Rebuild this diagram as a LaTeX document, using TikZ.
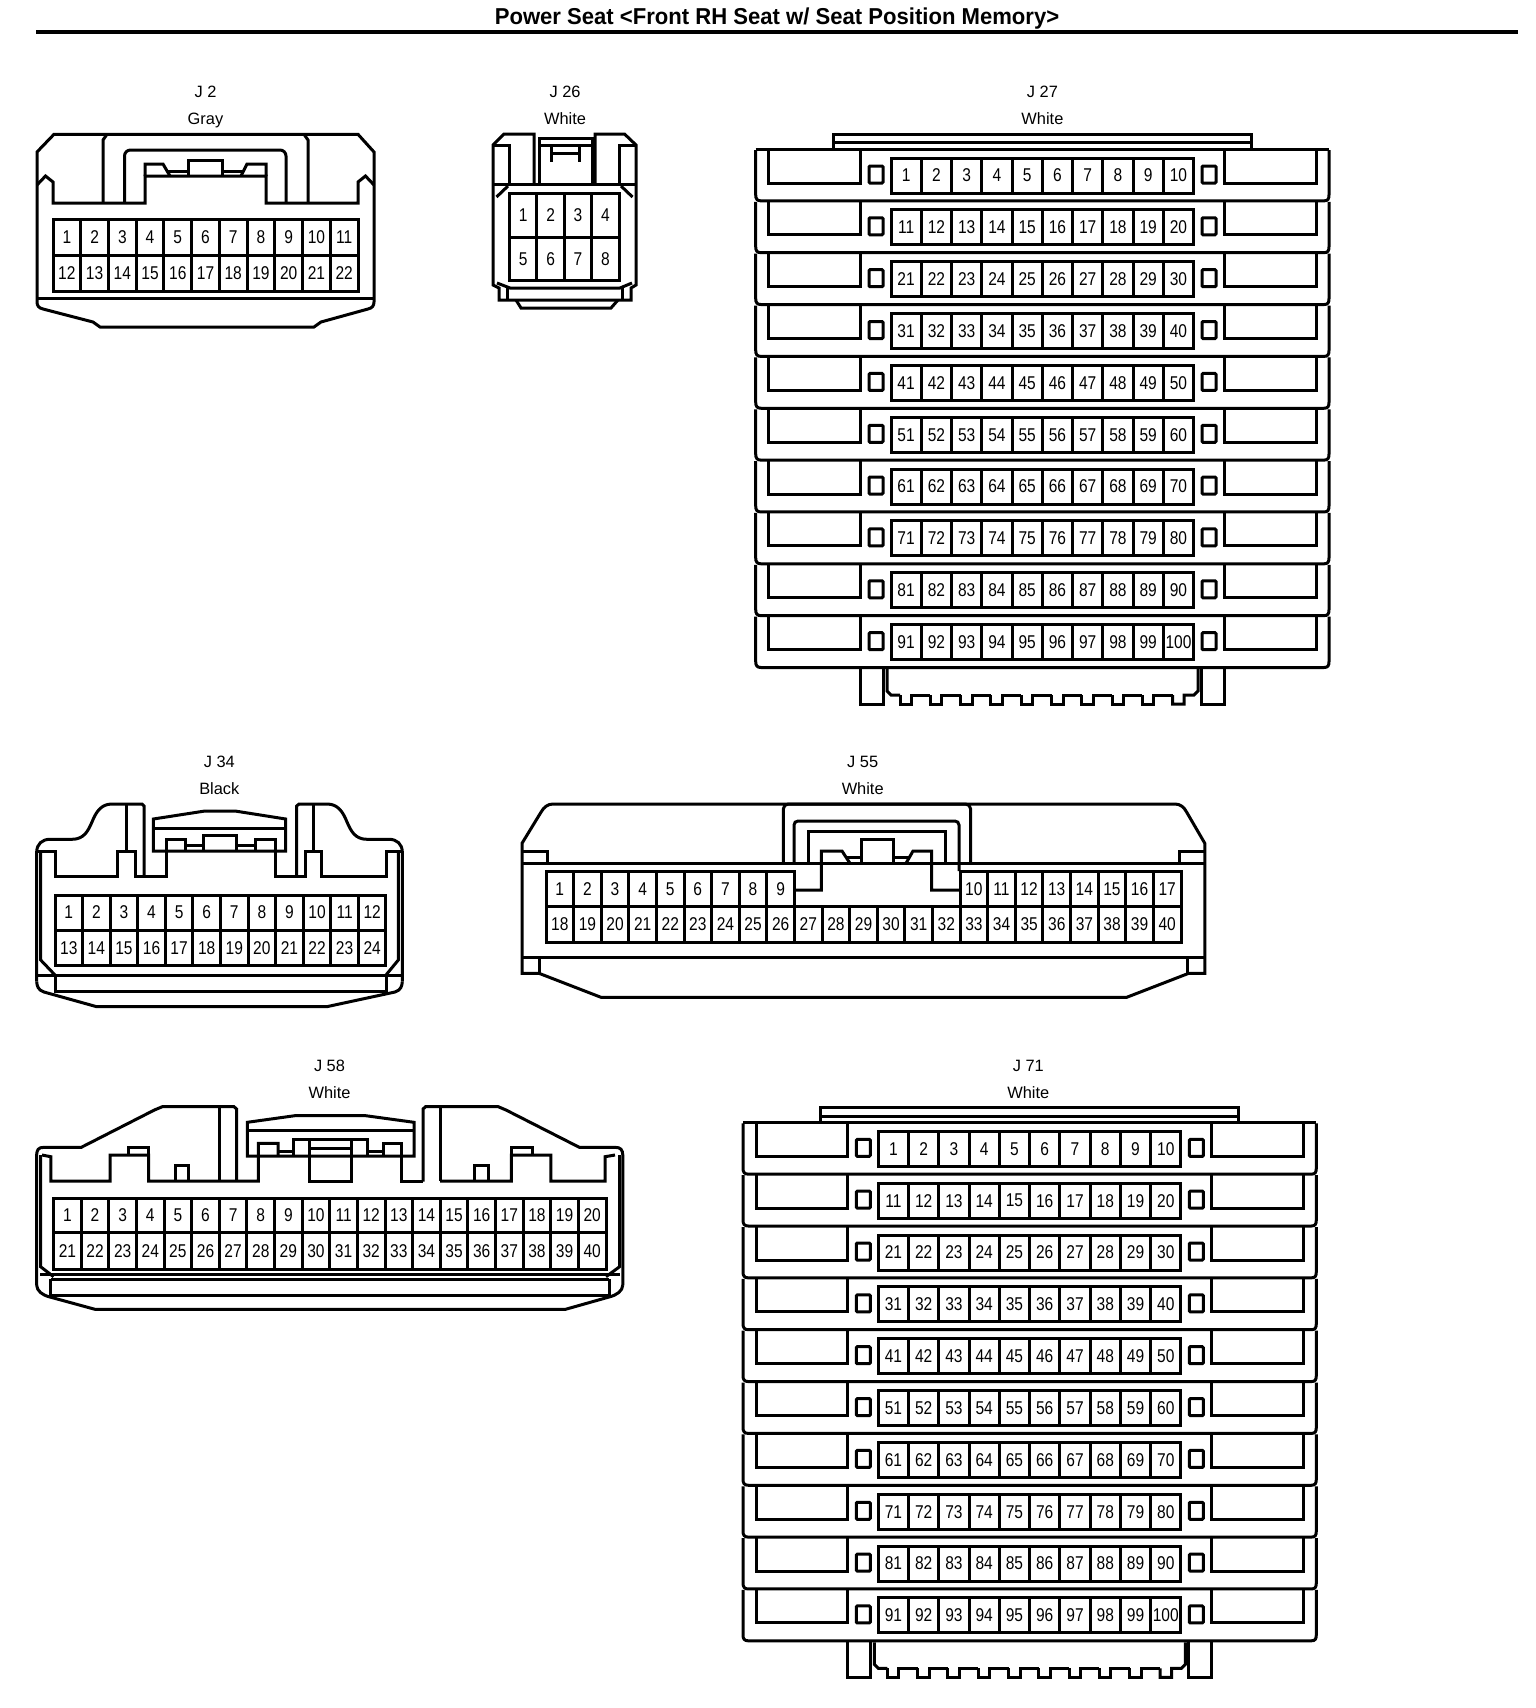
\documentclass[tikz,border=0pt]{standalone}
\usepackage{fontspec}
\setmainfont{Liberation Sans}
\newfontfamily\pinfont[FakeStretch=0.84]{Liberation Sans}
\newfontfamily\titlefont[FakeStretch=0.96]{Liberation Sans}
\usetikzlibrary{positioning}

% one row of numbered cavities: name, first, count, left, top, width, height
\newcommand{\pinrow}[7]{%
  \foreach \c in {1,...,#3} {
    \pgfmathtruncatemacro{\lab}{#2+\c-1}
    \pgfmathsetmacro{\cx}{#4+(\c-0.5)*#6}
    \pgfmathsetmacro{\cy}{#5+#7/2}
    \node[pincell, minimum width=#6pt, minimum height=#7pt] (#1\lab) at (\cx,\cy) {\lab};
  }%
}

% stacked ten-row connector, drawn where J27 sits
\newcommand{\tenrow}[1]{%
  \draw[outline] (833.6,149) -- (833.6,134) -- (1251,134) -- (1251,149);
  \draw[outline] (833.6,142.7) -- (1251,142.7);
  \draw[outline] (755.7,149) -- (1329,149);
  \foreach \m in {0,...,9} {
    \pgfmathsetmacro{\t}{149+51.85*\m}
    \pgfmathsetmacro{\b}{\t+51.85}
    \pgfmathtruncatemacro{\first}{10*\m+1}
    \draw[outline] (755.7,\t+1) -- (755.7,\b-6) .. controls (755.7,\b-2) and (757,\b) .. (761,\b)
      -- (1324,\b) .. controls (1328,\b) and (1329,\b-2) .. (1329,\b-6) -- (1329,\t+1);
    \draw[outline] (768.7,\t) -- (768.7,\t+34) -- (860.4,\t+34) -- (860.4,\t);
    \draw[outline] (1224,\t) -- (1224,\t+34) -- (1316,\t+34) -- (1316,\t);
    \draw[outline, rounded corners=1pt] (869,\t+17) rectangle (883,\t+34);
    \draw[outline, rounded corners=1pt] (1202,\t+17) rectangle (1216,\t+34);
    \pinrow{#1p}{\first}{10}{891}{\t+9}{30.26}{35}
  }
  % feet and comb under the last row
  \draw[outline] (860.4,669) -- (860.4,704) -- (883,704) -- (883,669);
  \draw[outline] (1201.5,669) -- (1201.5,704) -- (1224,704) -- (1224,669);
  \draw[outline] (887,669) -- (887,691) -- (891,695) -- (900,695);
  \foreach \i in {0,...,8} {
    \pgfmathsetmacro{\tx}{900+30.3*\i}
    \draw[outline] (\tx,695) -- (\tx,704) -- (\tx+11.5,704) -- (\tx+11.5,695) -- (\tx+30.3,695);
  }
  \draw[outline] (1172.7,695) -- (1172.7,704) -- (1184.2,704) -- (1184.2,695) -- (1194,695) -- (1198,691) -- (1198,669);
}

\begin{document}
\begin{tikzpicture}[
    x=1pt, y=-1pt,
    outline/.style={line width=3pt, line join=miter},
    pincell/.style={draw, line width=3pt, inner sep=0pt, outer sep=0pt,
      font=\pinfont\fontsize{18.5}{19}\selectfont},
    plugname/.style={anchor=base, inner sep=0pt, font=\fontsize{16.4}{18}\selectfont},
    plugcolor/.style={inner sep=0pt, text height=12pt, text depth=4pt,
      font=\fontsize{16.4}{18}\selectfont},
    node distance=15pt
]
    \fill[white] (0,0) rectangle (1536,1708);
    \useasboundingbox (0,0) rectangle (1536,1708);

    \node (title) [inner sep=0pt, font=\titlefont\bfseries\fontsize{23}{24}\selectfont] at (777,19) {Power Seat <Front RH Seat w/ Seat Position Memory>};
    \draw[line width=4pt] (36,32) -- (1518,32);

    % J2
    \node (j2name) [plugname] at (205.5,97.4) {J 2};
    \node (j2color) [plugcolor, below=of j2name] {Gray};
    \draw[outline] (54,134.3) -- (358,134.3) -- (374,152) -- (374,302)
      .. controls (374,306) and (372,308) .. (368,309) -- (321,322) -- (314,327) -- (100,327) -- (93,322)
      -- (43,309) .. controls (39,308) and (37,306) .. (37,302) -- (37,152) -- cycle;
    \draw[outline] (37,298) -- (374,298);
    \draw[outline] (37,185) -- (45.5,176) -- (53,182) -- (53,203) -- (145,203) -- (145,176) -- (266,176)
      -- (266,203) -- (358,203) -- (358,182) -- (365.5,176) -- (374,185);
    \draw[outline] (103,203) -- (103,140) -- (107,134.3);
    \draw[outline] (308,203) -- (308,140) -- (304,134.3);
    \draw[outline, rounded corners=6pt] (124.5,203) -- (124.5,150) -- (286,150) -- (286,203);
    \draw[outline] (145,176) -- (145,164) -- (163,164) -- (170,176);
    \draw[outline] (266,176) -- (266,164) -- (247,164) -- (241,176);
    \draw[outline] (167,171) -- (188.6,171);
    \draw[outline] (222,171) -- (244,171);
    \draw[outline] (188.6,176) -- (188.6,160) -- (222,160) -- (222,176);
    \pinrow{j2p}{1}{11}{53}{219}{27.73}{36.5}
    \pinrow{j2p}{12}{11}{53}{255.5}{27.73}{36}

    % J26
    \node (j26name) [plugname] at (565,97.4) {J 26};
    \node (j26color) [plugcolor, below=of j26name] {White};
    \draw[outline] (534,184.3) -- (534,134) -- (504,134) -- (493,145) -- (493,285) -- (499,288) -- (499,300)
      -- (631,300) -- (631,288) -- (636,285) -- (636,145) -- (624.5,134) -- (595,134) -- (595,184.3);
    \draw[outline] (516,300) -- (521,308) -- (611,308) -- (618,300);
    \draw[outline] (507,288) -- (507,300);
    \draw[outline] (622,288) -- (622,300);
    \draw[outline] (493,184.3) -- (636,184.3);
    \draw[outline] (493,145) -- (509.5,145) -- (509.5,184.3);
    \draw[outline] (636,145) -- (619,145) -- (619,184.3);
    \draw[outline] (539,184.3) -- (539,138) -- (592,138) -- (592,184.3);
    \draw[outline] (539,145) -- (592,145);
    \draw[outline] (551,145) -- (551,162);
    \draw[outline] (579,145) -- (579,162);
    \draw[outline] (551,153) -- (579,153);
    \draw[outline] (496.5,197) -- (508,186);
    \draw[outline] (632.5,197) -- (621,186);
    \draw[outline] (497,283) -- (510,288) -- (620,288) -- (632,283);
    \pinrow{j26p}{1}{4}{509.5}{193.3}{27.4}{44.2}
    \pinrow{j26p}{5}{4}{509.5}{237.5}{27.4}{43.2}

    % J27
    \node (j27name) [plugname] at (1042.4,97.4) {J 27};
    \node (j27color) [plugcolor, below=of j27name] {White};
    \tenrow{j27}

    % J34
    \node (j34name) [plugname] at (219.3,767.4) {J 34};
    \node (j34color) [plugcolor, below=of j34name] {Black};
    \draw[outline] (36.7,981.7) -- (36.7,851.7) .. controls (37,844) and (42,839.3) .. (50,839.3) -- (72,839.3)
      .. controls (84,839.3) and (88,831) .. (92,822) .. controls (96,812) and (101,804) .. (112,804) -- (142,804) -- (144,806) -- (144,876.7);
    \draw[outline] (296.7,876.7) -- (296.7,806) -- (299,804) -- (327,804)
      .. controls (338,804) and (343,812) .. (347,822) .. controls (351,831) and (355,839.3) .. (367,839.3)
      -- (389,839.3) .. controls (397,839.3) and (402,844) .. (402.3,851.7) -- (402.3,981.7);
    \draw[outline] (36.7,981.7) .. controls (37,986) and (38,990) .. (44,992) -- (96.7,1006.7) -- (326.7,1006.7)
      -- (395,992) .. controls (401,990) and (402,986) .. (402.3,981.7);
    \draw[outline] (36.7,851.7) -- (55,851.7) -- (55,876.7) -- (117.3,876.7) -- (117.3,851.7) -- (135,851.7)
      -- (135,876.7) -- (166,876.7) -- (166,839.3) -- (185,839.3) -- (185,851);
    \draw[outline] (402.3,851.7) -- (386,851.7) -- (386,876.7) -- (321.7,876.7) -- (321.7,851.7) -- (305,851.7)
      -- (305,876.7) -- (275,876.7) -- (275,839.3) -- (255,839.3) -- (255,851);
    \draw[outline] (126,804) -- (126,851.7);
    \draw[outline] (313,804) -- (313,851.7);
    \draw[outline] (153.3,851) -- (153.3,819) -- (205,811) -- (235,811) -- (285.7,819) -- (285.7,851) -- cycle;
    \draw[outline] (153.3,828.3) -- (285.7,828.3);
    \draw[outline] (203,851) -- (203,835) -- (236.7,835) -- (236.7,851);
    \draw[outline] (185,845) -- (203,845);
    \draw[outline] (236.7,845) -- (255,845);
    \draw[outline] (40.7,851.7) -- (40.7,960) -- (55,975);
    \draw[outline] (398.3,851.7) -- (398.3,960) -- (386,975);
    \draw[outline] (36.7,975) -- (402.3,975);
    \draw[outline] (55,975) -- (55,991.7) -- (386,991.7) -- (386,975);
    \pinrow{j34p}{1}{12}{55}{895}{27.58}{35}
    \pinrow{j34p}{13}{12}{55}{930}{27.58}{35.7}

    % J55
    \node (j55name) [plugname] at (862.7,767.4) {J 55};
    \node (j55color) [plugcolor, below=of j55name] {White};
    \draw[outline] (522,973.3) -- (522,843.3) -- (541.3,811.7) .. controls (544,807) and (548,804) .. (553,804)
      -- (1175,804) .. controls (1180,804) and (1184,807) .. (1186.4,811.7) -- (1204.8,843.3) -- (1204.8,973.3)
      -- (1188.7,973.3) -- (1126.7,997.3) -- (601,997.3) -- (539,973.3) -- cycle;
    \draw[outline] (522,863.3) -- (808.5,863.3);
    \draw[outline] (945.4,863.3) -- (1204.8,863.3);
    \draw[outline] (522,851.7) -- (547,851.7) -- (547,863.3);
    \draw[outline] (1204.8,851.7) -- (1179.5,851.7) -- (1179.5,863.3);
    \draw[outline] (522,957.3) -- (1204.8,957.3);
    \draw[outline] (539,957.3) -- (539,973.3);
    \draw[outline] (1187.8,957.3) -- (1187.8,973.3);
    \draw[outline, rounded corners=5pt] (783.3,863.3) -- (783.3,804) -- (970.6,804) -- (970.6,863.3);
    \draw[outline, rounded corners=4pt] (794,863.3) -- (794,821) -- (959,821) -- (959,871);
    \draw[outline] (808.5,863.3) -- (808.5,831) -- (945.4,831) -- (945.4,863.3) -- cycle;
    \draw[outline] (861.3,863.3) -- (861.3,839.3) -- (893.5,839.3) -- (893.5,863.3);
    \draw[outline] (795,890) -- (821.4,890) -- (821.4,851) -- (842,851) -- (850,863.3);
    \draw[outline] (846,857.3) -- (861.3,857.3);
    \draw[outline] (893.5,857.3) -- (909,857.3);
    \draw[outline] (906,863.3) -- (913,851) -- (931.6,851) -- (931.6,890) -- (959,890);
    \pinrow{j55p}{1}{9}{546}{871}{27.6}{35.7}
    \pinrow{j55p}{10}{8}{960}{871}{27.63}{35.7}
    \pinrow{j55p}{18}{23}{546}{906.7}{27.61}{35.6}

    % J58
    \node (j58name) [plugname] at (329.5,1071) {J 58};
    \node (j58color) [plugcolor, below=of j58name] {White};
    \draw[outline] (36.6,1285) -- (36.6,1155) .. controls (37,1150) and (38,1147.3) .. (44,1147.3) -- (81.3,1147.3)
      -- (154.4,1110) -- (162.3,1106.7) -- (234,1106.7) -- (236.6,1109) -- (236.6,1181.7);
    \draw[outline] (423,1181.7) -- (423,1109) -- (425.6,1106.7) -- (498.3,1106.7) -- (506,1110) -- (579.3,1147.3)
      -- (615,1147.3) .. controls (621,1147.3) and (622.5,1150) .. (622.8,1155) -- (622.8,1285);
    \draw[outline] (36.6,1285) .. controls (37,1291) and (42,1295) .. (50,1297) -- (95,1309.3) -- (565.5,1309.3)
      -- (609,1297) .. controls (617,1295) and (622.5,1291) .. (622.8,1285);
    \draw[outline] (219.6,1106.7) -- (219.6,1181.7);
    \draw[outline] (440,1106.7) -- (440,1181);
    \draw[outline] (42,1155) -- (50.8,1156.7) -- (50.8,1181) -- (110,1181) -- (110,1155) -- (148.5,1155)
      -- (148.5,1181) -- (258.3,1181) -- (258.3,1143.3) -- (278,1143.3) -- (278,1156);
    \draw[outline] (128.7,1155) -- (128.7,1147.3) -- (148.5,1147.3) -- (148.5,1155);
    \draw[outline] (175.3,1181) -- (175.3,1165) -- (188,1165) -- (188,1181);
    \draw[outline] (247.3,1156) -- (247.3,1122.3) -- (294.7,1115.7) -- (365.8,1115.7) -- (414,1122.3) -- (414,1156) -- cycle;
    \draw[outline] (247.3,1130.7) -- (414,1130.7);
    \draw[outline] (293.5,1156) -- (293.5,1139) -- (367,1139) -- (367,1156);
    \draw[outline] (278,1151) -- (293.5,1151);
    \draw[outline] (367,1151) -- (383,1151);
    \draw[outline] (309.7,1139) -- (309.7,1181.7) -- (351.2,1181.7) -- (351.2,1139);
    \draw[outline] (309.7,1148.3) -- (351.2,1148.3);
    \draw[outline] (383,1156) -- (383,1143.3) -- (401.4,1143.3) -- (401.4,1181) -- (423,1181);
    \draw[outline] (440,1181) -- (511.3,1181) -- (511.3,1155) -- (550.8,1155) -- (550.8,1181) -- (605,1181)
      -- (605,1156.7) -- (615,1155);
    \draw[outline] (511.3,1155) -- (511.3,1147.3) -- (532,1147.3) -- (532,1155);
    \draw[outline] (474.5,1181) -- (474.5,1165) -- (488.4,1165) -- (488.4,1181);
    \draw[outline] (40.6,1155) -- (40.6,1266.7) -- (53.6,1276.7);
    \draw[outline] (619.6,1155) -- (619.6,1266.7) -- (606,1276.7);
    \draw[outline] (40,1274.3) -- (620,1274.3);
    \draw[outline] (50.8,1279) -- (609,1279);
    \draw[outline] (50.8,1279) -- (50.8,1295) -- (609,1295) -- (609,1279);
    \pinrow{j58p}{1}{20}{53.6}{1198.3}{27.62}{34.4}
    \pinrow{j58p}{21}{20}{53.6}{1232.7}{27.62}{36.6}

    % J71
    \node (j71name) [plugname] at (1028.3,1071) {J 71};
    \node (j71color) [plugcolor, below=of j71name] {White};
    \begin{scope}[shift={(-12.7,973.3)}]
        \tenrow{j71}
    \end{scope}
\end{tikzpicture}
\end{document}
